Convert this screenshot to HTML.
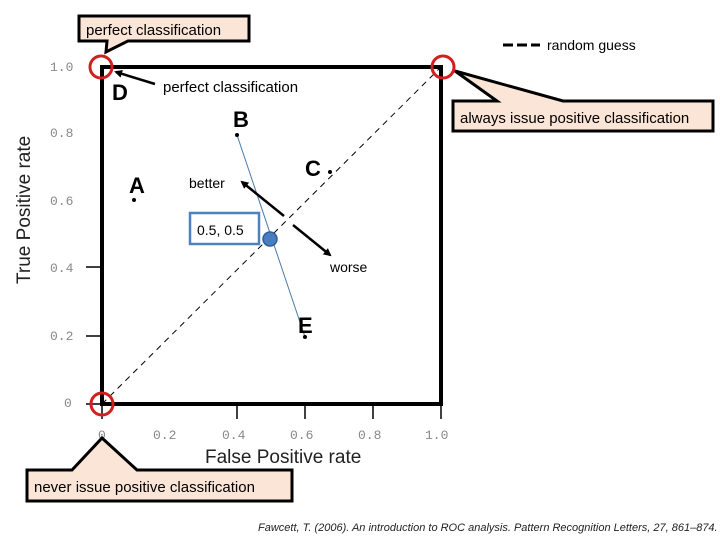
<!DOCTYPE html>
<html><head><style>
body{margin:0;width:720px;height:540px;background:#fff;overflow:hidden}
svg{display:block}
.c{font-family:"Liberation Sans",sans-serif}
.m{font-family:"Liberation Mono",monospace;fill:#888;font-size:13px}
</style></head><body>
<svg width="720" height="540" class="c">
<defs><marker id="ah" markerWidth="8" markerHeight="8" refX="6" refY="4" orient="auto" markerUnits="userSpaceOnUse"><path d="M0,0 L8,4 L0,8 z" fill="#000"/></marker></defs>
<!-- axes ticks -->
<g stroke="#000" stroke-width="1.5">
<line x1="86" y1="267" x2="101" y2="267"/><line x1="86" y1="336" x2="101" y2="336"/><line x1="86" y1="404" x2="101" y2="404"/>
<line x1="237" y1="404" x2="237" y2="419"/><line x1="305" y1="404" x2="305" y2="419"/><line x1="373" y1="404" x2="373" y2="419"/><line x1="441" y1="404" x2="441" y2="419"/><line x1="102" y1="404" x2="102" y2="419"/>
</g>
<text class="m" x="50" y="71">1.0</text><text class="m" x="50" y="137">0.8</text><text class="m" x="50" y="205">0.6</text><text class="m" x="50" y="272">0.4</text><text class="m" x="50" y="340">0.2</text><text class="m" x="64" y="407">0</text>
<text class="m" x="98" y="439">0</text><text class="m" x="153" y="439">0.2</text><text class="m" x="222" y="439">0.4</text><text class="m" x="290" y="439">0.6</text><text class="m" x="358" y="439">0.8</text><text class="m" x="425" y="439">1.0</text>
<text x="205" y="463" font-size="19" fill="#222">False Positive rate</text>
<text transform="translate(30,284) rotate(-90)" font-size="19" fill="#222">True Positive rate</text>
<!-- box -->
<rect x="102" y="67" width="339" height="337" fill="none" stroke="#000" stroke-width="4"/>
<line x1="102" y1="404" x2="441" y2="67" stroke="#000" stroke-dasharray="6,5" stroke-width="1"/>
<!-- legend -->
<line x1="503" y1="45" x2="540" y2="45" stroke="#000" stroke-width="3" stroke-dasharray="10,4"/>
<text x="547" y="50" font-size="14">random guess</text>
<!-- points -->
<line x1="237" y1="135" x2="305" y2="337" stroke="#4a7aa8" stroke-width="1"/>
<g fill="#000"><circle cx="134" cy="200" r="2"/><circle cx="237" cy="135" r="2"/><circle cx="330" cy="172" r="2"/><circle cx="305" cy="337" r="2"/></g>
<g font-weight="bold" font-size="22"><text x="112" y="100">D</text><text x="129" y="193">A</text><text x="233" y="127">B</text><text x="305" y="176">C</text><text x="298" y="333">E</text></g>
<circle cx="270" cy="239" r="7" fill="#4a7cc0" stroke="#2f5f9a" stroke-width="1.5"/>
<rect x="190" y="213" width="69" height="31" fill="#fff" stroke="#4f81bd" stroke-width="2.5"/>
<text x="197" y="235" font-size="14">0.5, 0.5</text>
<text x="189" y="188" font-size="14">better</text><text x="330" y="272" font-size="14">worse</text>
<text x="163" y="92" font-size="15">perfect classification</text>
<g stroke="#000" stroke-width="2.5">
<line x1="155" y1="84" x2="116" y2="72" marker-end="url(#ah)"/>
<line x1="284" y1="216" x2="242" y2="182" marker-end="url(#ah)"/>
<line x1="293" y1="225" x2="330" y2="255" marker-end="url(#ah)"/>
</g>
<!-- callouts -->
<path d="M79,16 H249 V41 H128 L106,52 L107,41 H79 Z" fill="#fbe5d6" stroke="#000" stroke-width="3"/>
<text x="86" y="35" font-size="15">perfect classification</text>
<path d="M453,101 H497 L455,71 L563,101 H713 V131 H453 Z" fill="#fbe5d6" stroke="#000" stroke-width="3"/>
<text x="460" y="123" font-size="15">always issue positive classification</text>
<path d="M27,470 H72 L102,438 L137,470 H292 V501 H27 Z" fill="#fbe5d6" stroke="#000" stroke-width="3"/>
<text x="34" y="492" font-size="15">never issue positive classification</text>
<!-- red circles -->
<g fill="none" stroke="#d0201f" stroke-width="3"><circle cx="101" cy="67" r="11"/><circle cx="443" cy="67" r="11"/><circle cx="102" cy="404" r="11"/></g>
<text x="258" y="531" font-size="11" font-style="italic" fill="#222">Fawcett, T. (2006). An introduction to ROC analysis. Pattern Recognition Letters, 27, 861–874.</text>
</svg>
</body></html>
